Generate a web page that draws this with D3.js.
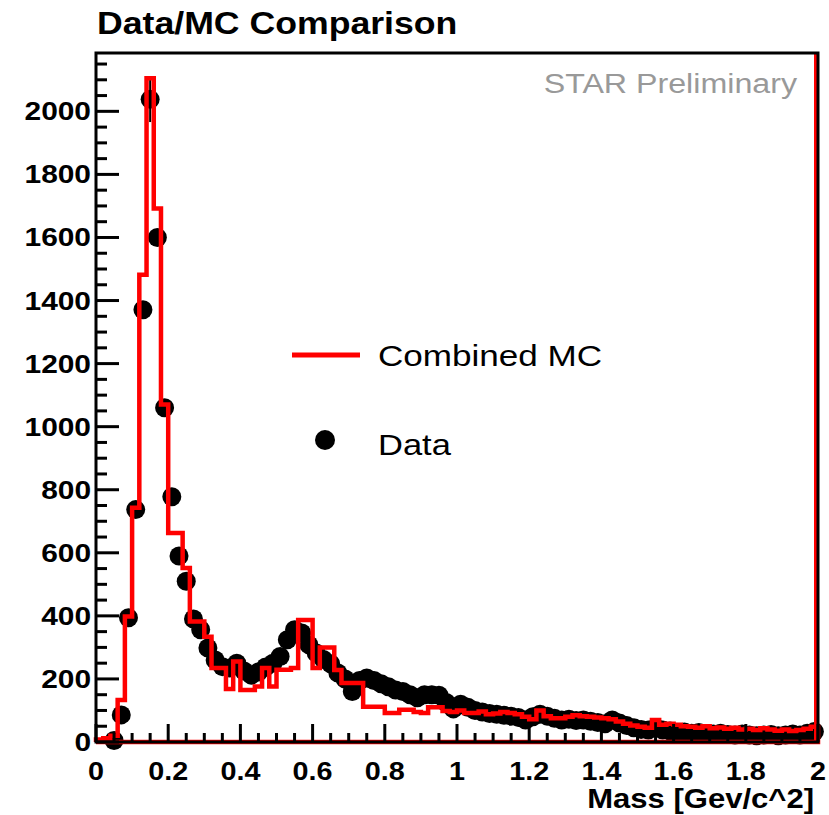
<!DOCTYPE html>
<html>
<head>
<meta charset="utf-8">
<script src="https://cdn.jsdelivr.net/npm/d3@7"></script>
<style>
  body { margin: 0; background: #fff; }
  text { font-family: "Liberation Sans", Arial, sans-serif; }
</style>
</head>
<body>
<div id="chart"></div>
<script>
// histogram binning: 100 bins from 0 to 2 GeV/c^2
const binEdges = d3.range(0, 101).map(i => +(i * 0.02).toFixed(2));

// combined MC (red step histogram), one value per bin
const mcValues = [
    8, 12, 20, 133, 398, 743, 1482, 2105, 1692, 1070,
    663, 663, 552, 382, 382, 334, 235, 235, 168, 255,
    165, 165, 176, 235, 176, 229, 229, 235, 387, 387,
    235, 300, 300, 228, 187, 187, 187, 112, 112, 112,
    92, 92, 102, 102, 95, 92, 110, 110, 98, 95,
    100, 92, 92, 97, 88, 90, 95, 92, 88, 80,
    72, 100, 82, 75, 75, 80, 85, 82, 80, 78,
    75, 72, 65, 58, 52, 48, 45, 70, 55, 58,
    55, 50, 48, 45, 50, 44, 46, 42, 45, 40,
    42, 38, 44, 40, 36, 40, 35, 38, 42, 48
];

// data points (null = empty bin)
const dataValues = [
    null, null, 5, 86, 394, 737, 1371, 2038, 1600, 1060,
    778, 590, 510, 390, 356, 298, 260, 239, 235, 250,
    225, 212, 222, 238, 250, 271, 324, 356, 346, 308,
    282, 262, 248, 219, 200, 160, 195, 203, 195, 185,
    175, 165, 160, 150, 140, 150, 150, 148, 125, 105,
    120, 110, 100, 95, 90, 88, 85, 82, 78, 70,
    80, 88, 82, 75, 70, 72, 68, 70, 66, 62,
    58, 70, 60, 52, 45, 40, 38, 45, 38, 35,
    30, 32, 28, 30, 26, 25, 28, 24, 22, 25,
    22, 20, 22, 24, 20, 22, 25, 22, 28, 33
];

// the only error bar that shows outside its marker (peak bin)
const dataErrors = {7: 72};

const xTicks = [0, 0.2, 0.4, 0.6, 0.8, 1, 1.2, 1.4, 1.6, 1.8, 2];
const yTicks = [0, 200, 400, 600, 800, 1000, 1200, 1400, 1600, 1800, 2000];

const width = 829, height = 815;
const frame = {left: 96, right: 818, top: 53, bottom: 742};
const stretch = 1.15; // ROOT fonts render a little wider than Arial

const svg = d3.select("#chart").append("svg")
    .attr("width", width)
    .attr("height", height);

svg.append("rect").attr("width", width).attr("height", height).attr("fill", "#fff");

const x = d3.scaleLinear().domain([0, 2]).range([frame.left, frame.right]);
const y = d3.scaleLinear().domain([0, 2185]).range([frame.bottom, frame.top]);

// helper for horizontally stretched text
function label(txt, px, py, opts) {
    const g = svg.append("g").attr("transform", `translate(${px},${py}) scale(${opts.sx || stretch},1)`);
    return g.append("text")
        .attr("text-anchor", opts.anchor || "start")
        .attr("font-size", opts.size)
        .attr("font-weight", opts.weight || "normal")
        .attr("fill", opts.color || "#000")
        .text(txt);
}

// data points
const pts = dataValues.map((v, i) => ({i: i, x: (binEdges[i] + binEdges[i + 1]) / 2, v: v}))
    .filter(d => d.v !== null);

svg.append("g").selectAll("circle")
    .data(pts)
    .enter().append("circle")
    .attr("cx", d => x(d.x))
    .attr("cy", d => y(d.v))
    .attr("r", 9.5)
    .attr("fill", "#000");

svg.append("g").selectAll("line")
    .data(pts.filter(d => dataErrors[d.i]))
    .enter().append("line")
    .attr("x1", d => x(d.x)).attr("x2", d => x(d.x))
    .attr("y1", d => y(d.v - dataErrors[d.i])).attr("y2", d => y(d.v + dataErrors[d.i]))
    .attr("stroke", "#000").attr("stroke-width", 2);

// MC histogram outline, drawn over the data
const mcPoints = [[0, 0]];
mcValues.forEach((v, i) => {
    mcPoints.push([binEdges[i], v]);
    mcPoints.push([binEdges[i + 1], v]);
});
mcPoints.push([2, 0]);
mcPoints.push([0, 0]);

const line = d3.line().x(d => x(d[0])).y(d => y(d[1]));

svg.append("path")
    .attr("d", line(mcPoints))
    .attr("fill", "none")
    .attr("stroke", "#ff0000")
    .attr("stroke-width", 4.5)
    .attr("stroke-linejoin", "miter");

// red line on the right edge
svg.append("line")
    .attr("x1", x(2) - 2.5).attr("x2", x(2) - 2.5)
    .attr("y1", y(0)).attr("y2", frame.top)
    .attr("stroke", "#ff0000").attr("stroke-width", 3);

// frame
svg.append("rect")
    .attr("x", frame.left).attr("y", frame.top)
    .attr("width", frame.right - frame.left).attr("height", frame.bottom - frame.top)
    .attr("fill", "none").attr("stroke", "#000").attr("stroke-width", 3);

// y ticks
const yMinor = d3.range(0, 2185, 50);
svg.append("g").selectAll("line")
    .data(yMinor)
    .enter().append("line")
    .attr("x1", frame.left)
    .attr("x2", d => frame.left + (d % 200 === 0 ? 23 : 11))
    .attr("y1", d => y(d)).attr("y2", d => y(d))
    .attr("stroke", "#000").attr("stroke-width", 3);

// x ticks
const xMinor = d3.range(0, 41).map(i => i * 0.05);
svg.append("g").selectAll("line")
    .data(xMinor)
    .enter().append("line")
    .attr("x1", d => x(d)).attr("x2", d => x(d))
    .attr("y1", frame.bottom)
    .attr("y2", (d, i) => frame.bottom - (i % 4 === 0 ? 18 : 9))
    .attr("stroke", "#000").attr("stroke-width", 3);

// tick labels
yTicks.forEach(t => label(t, 91, y(t) + 9, {size: 26, weight: "bold", anchor: "end"}));
xTicks.forEach(t => label(t, x(t), 780, {size: 25, weight: "bold", anchor: "middle"}));

// titles
label("Data/MC Comparison", 97, 34, {size: 31, weight: "bold"});
label("Mass [Gev/c^2]", 814, 808, {size: 27, weight: "bold", anchor: "end"});
label("STAR Preliminary", 797, 93, {size: 28, color: "#999999", anchor: "end"});

// legend
svg.append("line")
    .attr("x1", 292).attr("x2", 360).attr("y1", 355).attr("y2", 355)
    .attr("stroke", "#ff0000").attr("stroke-width", 5);
label("Combined MC", 378, 366, {size: 30, sx: 1.17});
svg.append("circle").attr("cx", 325).attr("cy", 440).attr("r", 10).attr("fill", "#000");
label("Data", 378, 455, {size: 30});
</script>
</body>
</html>
